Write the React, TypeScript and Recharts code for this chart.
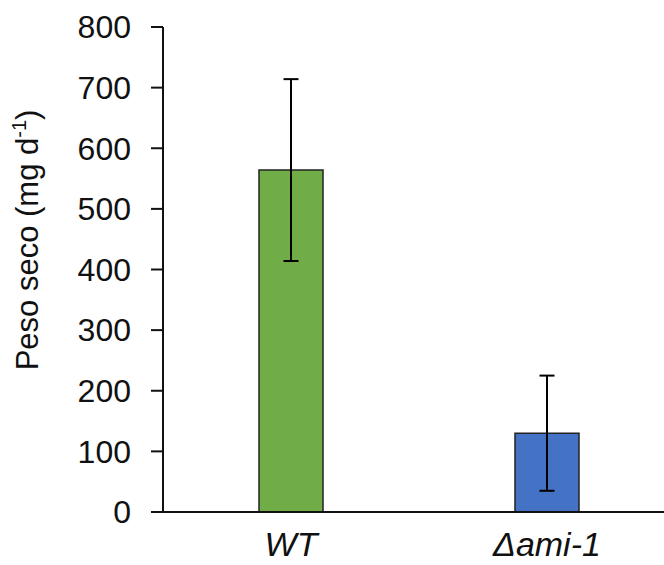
import { Bar, BarChart, Cell, ErrorBar, XAxis, YAxis } from "recharts";

const categories = ["WT", "Δami-1"];
const pesoSeco = [564, 130];
const errores = [150, 95];
const colores = ["#70AD47", "#4472C4"];
const yTicks = [0, 100, 200, 300, 400, 500, 600, 700, 800];

const data = categories.map((name, i) => ({ name, peso: pesoSeco[i], err: errores[i] }));

const font = "'Liberation Sans', Arial, sans-serif";

function YLabel() {
  return (
    <text
      x={0}
      y={0}
      transform="translate(38, 240) rotate(-90)"
      textAnchor="middle"
      fontFamily={font}
      fontSize={31}
      fill="#111"
    >
      Peso seco (mg d
      <tspan fontSize={20} dy={-12}>-1</tspan>
      <tspan dy={12}>)</tspan>
    </text>
  );
}

export default function App() {
  return (
    <div style={{ position: "absolute", left: 0, top: 0, width: 664, height: 565, overflow: "hidden", background: "#fff" }}>
      <BarChart
        width={676}
        height={565}
        data={data}
        margin={{ top: 27, right: 1, bottom: 0, left: 0 }}
      >
        <YAxis
          width={163}
          domain={[0, 800]}
          ticks={yTicks}
          interval={0}
          tickSize={12}
          tickMargin={20}
          axisLine={{ stroke: "#111", strokeWidth: 2 }}
          tickLine={{ stroke: "#111", strokeWidth: 2 }}
          tick={{ fill: "#111", fontSize: 32, fontFamily: font }}
          label={<YLabel />}
        />
        <XAxis
          dataKey="name"
          height={53}
          tickLine={false}
          tickSize={0}
          tickMargin={20}
          axisLine={{ stroke: "#111", strokeWidth: 2 }}
          tick={{ fill: "#111", fontSize: 34, fontFamily: font, fontStyle: "italic" }}
        />
        <Bar dataKey="peso" barSize={64} stroke="#222" strokeWidth={1.5} isAnimationActive={false}>
          {data.map((d, i) => (
            <Cell key={d.name} fill={colores[i]} />
          ))}
          <ErrorBar dataKey="err" width={7.5} stroke="#000" strokeWidth={2} />
        </Bar>
      </BarChart>
    </div>
  );
}
